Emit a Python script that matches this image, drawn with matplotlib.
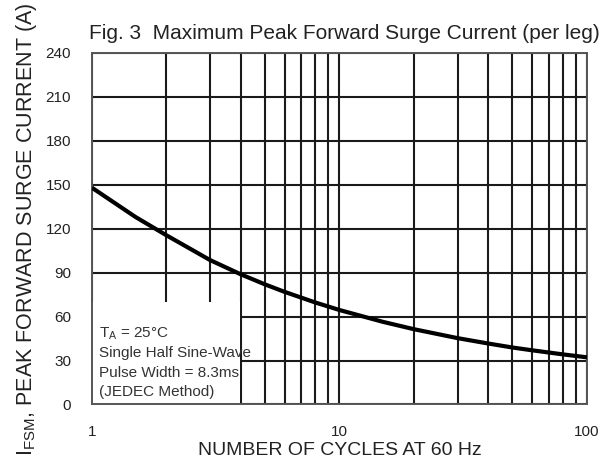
import matplotlib
matplotlib.use("Agg")
import matplotlib.pyplot as plt
from matplotlib.ticker import FixedLocator, NullFormatter

plt.rcParams['font.family'] = ['Liberation Sans', 'DejaVu Sans']

# curve (cycles, amps)
cycles = [1, 1.5, 2, 3, 4, 5, 6, 8, 10, 15, 20, 30, 40, 50, 60, 80, 100]
surge_amps = [148, 128, 115.5, 98.6, 88.8, 82, 76.9, 69.6, 64.5, 56.4, 51.4, 45.3,
              41.6, 38.9, 37, 34.2, 32.2]

y_ticks = [0, 30, 60, 90, 120, 150, 180, 210, 240]
x_major = [1, 10, 100]
x_minor = [2, 3, 4, 5, 6, 7, 8, 9, 20, 30, 40, 50, 60, 70, 80, 90]
x_labels = ['1', '10', '100']

note_lines = [r'T$_\mathregular{A}$ = 25°C', 'Single Half Sine-Wave',
              'Pulse Width = 8.3ms', '(JEDEC Method)']

fig = plt.figure(figsize=(6.12, 4.62), dpi=100)
ax = fig.add_axes([0.1503, 0.1245, 0.8088, 0.7608])

ax.set_xscale('log')
ax.set_xlim(1, 100)
ax.set_ylim(0, 240)
ax.xaxis.set_major_locator(FixedLocator(x_major))
ax.xaxis.set_minor_locator(FixedLocator(x_minor))
ax.xaxis.set_minor_formatter(NullFormatter())
ax.set_xticklabels(x_labels)
ax.set_yticks(y_ticks)

grid_col = '#1a1a1a'
ax.set_axisbelow(True)
ax.grid(True, which='both', axis='x', color=grid_col, lw=1.5)
ax.grid(True, which='major', axis='y', color=grid_col, lw=1.5)
for s in ax.spines.values():
    s.set_color('#555555')
    s.set_linewidth(1.4)

ax.tick_params(which='both', length=0, pad=15, labelsize=11, colors='#222222')

# white panel under the note text (hides grid in lower-left corner)
ax.fill_between([1, 3.96], 0, 70, color='white', zorder=1, lw=0)

ax.plot(cycles, surge_amps, color='black', lw=3, zorder=3,
        solid_capstyle='butt', solid_joinstyle='round')

for i, t in enumerate(note_lines):
    ax.text(1.07, 48.2 - i * 13.2, t, fontsize=11, color='#333333', zorder=4, va='center')

ax.set_xlabel('NUMBER OF CYCLES AT 60 Hz', fontsize=14, color='#222222', labelpad=2)
ax.set_ylabel(r'I$_\mathregular{FSM}$, PEAK FORWARD SURGE CURRENT (A)', fontsize=15.5,
              color='#222222', labelpad=5)
ax.set_title('Fig. 3  Maximum Peak Forward Surge Current (per leg)', fontsize=15,
             color='#222222', pad=10, x=0.509)

fig.savefig('out.png', dpi=100)
